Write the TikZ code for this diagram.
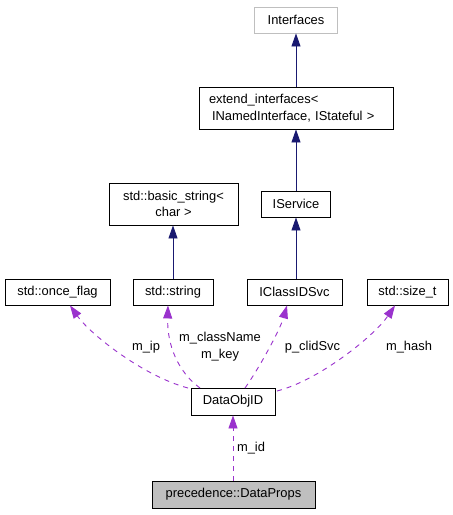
\documentclass[tikz,border=0pt]{standalone}
\usepackage{fontspec}
\setmainfont{Liberation Sans}
\usetikzlibrary{arrows.meta}
\definecolor{inhblue}{HTML}{191970}
\definecolor{usepurple}{HTML}{9A32CD}
\definecolor{boxgray}{HTML}{BFBFBF}
\begin{document}
\begin{tikzpicture}[x={(1pt,0)},y={(0,-1pt)},
  every node/.style={font=\fontsize{12.9}{16.5}\selectfont},
  cls/.style={draw=black,line width=0.9pt,inner sep=0pt,minimum height=26pt},
  inh/.style={draw=inhblue,line width=0.9pt,-{Triangle[length=13pt,width=9pt]}},
  usedep/.style={draw=usepurple,line width=0.9pt,dash pattern=on 5pt off 5pt,-{Triangle[length=13pt,width=9pt]}},
  lbl/.style={inner sep=0pt,align=center}]
\useasboundingbox (0,0) rectangle (453,515);
\fill[white] (0,0) rectangle (453,515);
% nodes
\node[cls,draw=boxgray,minimum width=83pt] (ifc) at (296,20) {Interfaces};
\node[cls,minimum width=194pt,minimum height=42pt,text width=174pt,align=left] (ext) at (296,108)
  {extend\_interfaces<\\\hspace*{3pt}INamedInterface, IStateful >};
\node[cls,minimum width=129pt,minimum height=42pt,align=center] (bstr) at (173.5,204) {std::basic\_string<\\char >};
\node[cls,minimum width=69pt] (isvc) at (296,204) {IService};
\node[cls,minimum width=105pt] (once) at (57.5,292) {std::once\_flag};
\node[cls,minimum width=80pt] (str) at (173,292) {std::string};
\node[cls,minimum width=95pt] (clid) at (294.5,292) {IClassIDSvc};
\node[cls,minimum width=81pt] (sizet) at (407.5,292) {std::size\_t};
\node[cls,minimum width=84pt,minimum height=27pt] (dobj) at (233,401.5) {DataObjID};
\node[cls,fill=boxgray,minimum width=163pt,minimum height=27pt] (dprops) at (233.5,494.5) {precedence::DataProps};
% inheritance
\draw[inh] (ext.north) -- (ifc.south);
\draw[inh] (isvc.north) -- (ext.south);
\draw[inh] (str.north) -- (str.north |- bstr.south);
\draw[inh] (clid.north -| isvc.south) -- (isvc.south);
% usage
\coordinate (p0) at (188,388);
\coordinate (p1) at (200,388);
\coordinate (p2) at (245,388);
\coordinate (p3) at (277,391);
\draw[usedep] (p0) .. controls (143,376) and (90,334) .. (once.south -| 70,0);
\draw[usedep] (p1) .. controls (178,372) and (167,345) .. (str.south -| 168,0);
\draw[usedep] (p2) .. controls (258,370) and (280,330) .. (clid.south -| 287,0);
\draw[usedep] (p3) .. controls (320,380) and (375,335) .. (sizet.south -| 395,0);
\draw[usedep] (dobj.south |- dprops.north) -- (dobj.south);
% labels
\node[lbl] (lip) at (146,347) {m\_ip};
\node[lbl] (lcls) at (220,346.5) {m\_className\\m\_key};
\node[lbl] (lclid) at (312.5,347) {p\_clidSvc};
\node[lbl] (lhash) at (409,347) {m\_hash};
\node[lbl] (lid) at (251,448) {m\_id};
\end{tikzpicture}
\end{document}
